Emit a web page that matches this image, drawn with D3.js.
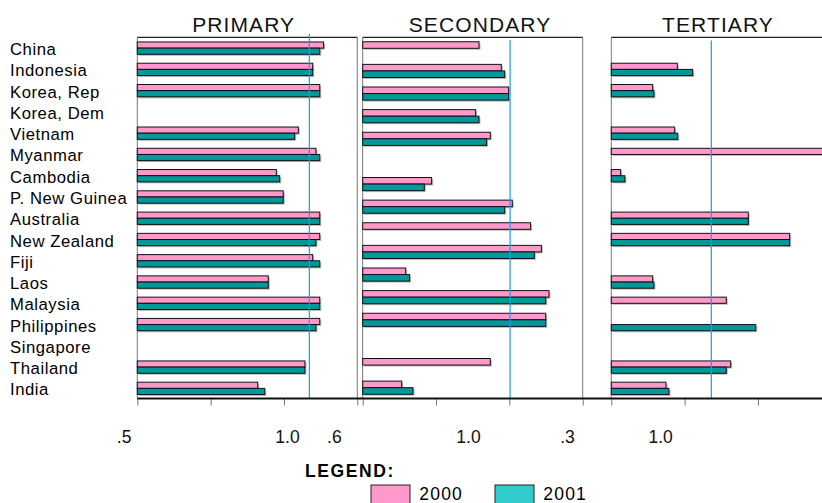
<!DOCTYPE html>
<html><head><meta charset="utf-8">
<script src="https://cdn.jsdelivr.net/npm/d3@7"></script>
<style>
html,body{margin:0;padding:0;background:#fff;}
svg{display:block;font-family:"Liberation Sans",Arial,sans-serif;}
</style></head>
<body>
<svg id="chart" width="822" height="503"></svg>
<script>
// ---------------- data ----------------
const categories = ["China","Indonesia","Korea, Rep","Korea, Dem","Vietnam","Myanmar","Cambodia","P. New Guinea","Australia","New Zealand","Fiji","Laos","Malaysia","Philippines","Singapore","Thailand","India"];
// the secondary panel in the original has one row fewer (no "Korea, Dem")
const secondaryCategories = ["China","Indonesia","Korea, Rep","Vietnam","Myanmar","Cambodia","P. New Guinea","Australia","New Zealand","Fiji","Laos","Malaysia","Philippines","Singapore","Thailand","India"];
const years = ["2000","2001"];

const primary2000 = [127.0,119.6,124.4,null,109.8,121.8,94.8,99.5,124.4,124.4,119.6,89.3,124.4,124.4,null,114.3,82.1];
const primary2001 = [124.4,119.6,124.4,null,107.3,124.4,97.1,99.5,124.4,121.8,124.4,89.3,124.4,121.8,null,114.3,86.9];

const secondary2000 = [79.3,94.5,99.5,77.0,87.0,null,47.0,102.0,114.5,121.8,29.3,127.0,124.8,null,87.0,26.6];
const secondary2001 = [null,96.8,99.5,79.3,84.5,null,42.0,96.8,null,117.0,32.0,124.8,124.8,null,null,34.3];

const tertiary2000 = [null,45.0,28.2,null,43.2,155,6.4,null,93.4,121.6,null,28.2,78.4,null,null,81.4,37.3];
const tertiary2001 = [null,55.5,29.1,null,45.3,null,9.3,null,93.4,121.6,null,29.1,null,98.5,null,78.4,39.3];

const panelTitles = ["PRIMARY","SECONDARY","TERTIARY"];
const referenceValues = [117.3,100.5,68.2];
const tickValues = [0,50,100,150];
const primaryTickLabels = [".5","1.0",".6"];
const primaryTickLabelAt = [-9,102.4,134.4];
const secondaryTickLabels = ["1.0",".3"];
const secondaryTickLabelAt = [72.1,139.6];
const tertiaryTickLabels = ["1.0"];
const tertiaryTickLabelAt = [33.6];

// ---------------- layout ----------------
const colors = {"2000":"#FF99CC","2001":"#009999"};
const legendColors = {"2000":"#FF99CC","2001":"#33CCCC"};
const svg = d3.select("#chart");
const frameTop = 37.3, frameBottom = 398.5;

const panels = [
  {title:panelTitles[0], cats:categories, s2000:primary2000, s2001:primary2001, x0:137.3, y0:37.5, ref:referenceValues[0], refTop:34, labels:primaryTickLabels, labelAt:primaryTickLabelAt, titleX:243.7},
  {title:panelTitles[1], cats:secondaryCategories, s2000:secondary2000, s2001:secondary2001, x0:362.7, y0:37, ref:referenceValues[1], refTop:40, labels:secondaryTickLabels, labelAt:secondaryTickLabelAt, titleX:480},
  {title:panelTitles[2], cats:categories, s2000:tertiary2000, s2001:tertiary2001, x0:611.3, y0:37.5, ref:referenceValues[2], refTop:40.5, labels:tertiaryTickLabels, labelAt:tertiaryTickLabelAt, titleX:718}
];

// category labels (aligned with the 17-row panels)
const yMain = d3.scaleBand().domain(categories).range([37.5,399]).paddingInner(0.42).paddingOuter(0.21);
svg.append("g").selectAll("text").data(categories).join("text")
  .attr("x",10)
  .attr("y",d=>yMain(d)+yMain.bandwidth()/2+7)
  .attr("font-size",16.7).attr("letter-spacing",0.55).attr("fill","#000")
  .text(d=>d);

panels.forEach(p=>{
  const x = d3.scaleLinear().domain([0,150]).range([p.x0,p.x0+220]);
  const y = d3.scaleBand().domain(p.cats).range([p.y0,399]).paddingInner(0.42).paddingOuter(0.21);
  const ys = d3.scaleBand().domain(years).range([0,y.bandwidth()]);
  const g = svg.append("g");

  // frame
  g.append("line").attr("x1",x(0)).attr("x2",Math.min(x(150),822)).attr("y1",frameTop).attr("y2",frameTop).attr("stroke","#222").attr("stroke-width",1.2);
  g.append("line").attr("x1",x(0)).attr("x2",x(0)).attr("y1",frameTop).attr("y2",frameBottom).attr("stroke","#777");
  if (x(150) < 822) g.append("line").attr("x1",x(150)).attr("x2",x(150)).attr("y1",frameTop).attr("y2",frameBottom).attr("stroke","#777");

  // title
  svg.append("text").attr("x",p.titleX).attr("y",31.7).attr("text-anchor","middle")
    .attr("font-size",21).attr("letter-spacing",1.1).attr("fill","#111").text(p.title);

  // bars
  const rows = [];
  p.cats.forEach((c,i)=>{
    if (p.s2000[i]!=null) rows.push({cat:c,year:"2000",v:p.s2000[i]});
    if (p.s2001[i]!=null) rows.push({cat:c,year:"2001",v:p.s2001[i]});
  });
  const bh = ys.bandwidth();
  g.append("g").selectAll("rect").data(rows).join("rect")
    .attr("x",x(0)+1.5).attr("y",d=>y(d.cat)+ys(d.year)+1.5)
    .attr("width",d=>x(d.v)-x(0)).attr("height",bh)
    .attr("fill","#aaa").attr("opacity",0.8);
  g.append("g").selectAll("rect").data(rows).join("rect")
    .attr("x",x(0)).attr("y",d=>y(d.cat)+ys(d.year))
    .attr("width",d=>x(d.v)-x(0)).attr("height",bh)
    .attr("fill",d=>colors[d.year]).attr("stroke","#111").attr("stroke-width",1);

  // reference line
  g.append("line").attr("x1",x(p.ref)).attr("x2",x(p.ref)).attr("y1",p.refTop).attr("y2",frameBottom)
    .attr("stroke","#1E9BF0").attr("stroke-width",1.2);

  // axis ticks
  const ax = d3.axisBottom(x).tickValues(tickValues).tickSize(7).tickFormat("");
  const axg = g.append("g").attr("transform",`translate(0,${frameBottom})`).call(ax);
  axg.select(".domain").remove();
  axg.selectAll(".tick line").attr("stroke","#777");

  // tick labels (as in original)
  g.append("g").selectAll("text").data(p.labels).join("text")
    .attr("x",(d,i)=>x(p.labelAt[i])).attr("y",442.7).attr("text-anchor","middle")
    .attr("font-size",17.5).attr("fill","#111").text(d=>d);
});

// continuous base axis line
svg.append("line").attr("x1",137.3).attr("x2",822).attr("y1",frameBottom).attr("y2",frameBottom)
  .attr("stroke","#111").attr("stroke-width",2);

// legend
svg.append("text").attr("x",305).attr("y",477.3).attr("font-size",17.5).attr("font-weight","bold")
  .attr("letter-spacing",1.6).attr("fill","#000").text("LEGEND:");
const lg = svg.append("g").selectAll("g").data(years).join("g")
  .attr("transform",(d,i)=>`translate(${371+i*124},485)`);
lg.append("rect").attr("width",39).attr("height",22).attr("fill",d=>legendColors[d]).attr("stroke","#222").attr("stroke-width",1);
lg.append("text").attr("x",48.3).attr("y",15).attr("font-size",17.5).attr("letter-spacing",1.2).attr("fill","#000").text(d=>d);
</script>
</body></html>
